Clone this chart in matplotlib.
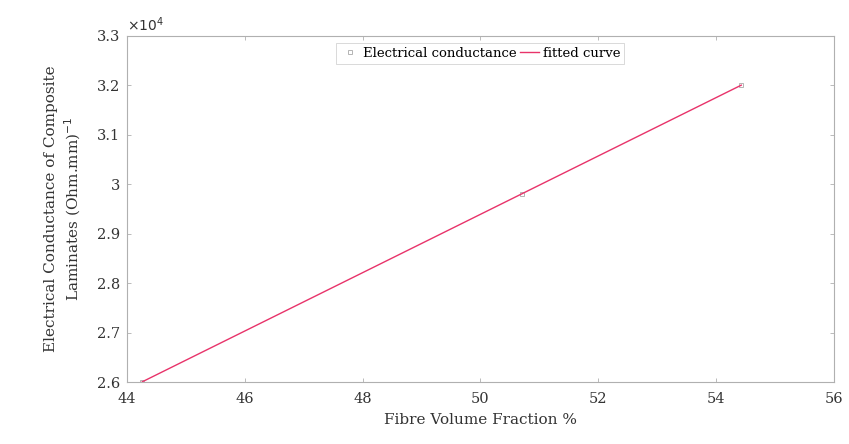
import matplotlib
matplotlib.use("Agg")
import matplotlib.pyplot as plt
from matplotlib.ticker import FuncFormatter

# measured points
fvf = [44.26, 50.70, 54.43]
conductance = [26000, 29810, 32010]

# fitted curve (end points)
fit_x = [44.26, 54.43]
fit_y = [26005, 32005]

plt.rcParams['font.family'] = ['DejaVu Serif']
plt.rcParams['font.size'] = 10

fig = plt.figure(figsize=(8.49, 4.44), dpi=100)
ax = fig.add_axes([0.1496, 0.1396, 0.8324, 0.7794])

ax.plot(fvf, conductance, linestyle='none', marker='s', markersize=2.2,
        markerfacecolor='none', markeredgecolor='#b4b4b4', markeredgewidth=0.7,
        label='Electrical conductance')
ax.plot(fit_x, fit_y, color='#e8336a', linewidth=1.0, label='fitted curve')

ax.set_xlim(44, 56)
ax.set_ylim(26000, 33000)
ax.set_xticks(range(44, 57, 2))
ax.set_yticks(range(26000, 33001, 1000))
ax.yaxis.set_major_formatter(FuncFormatter(lambda v, p: f'{v/1e4:g}'))

for s in ax.spines.values():
    s.set_color('#b0b0b0')
    s.set_linewidth(0.8)
ax.tick_params(direction='in', length=3, width=0.6, color='#b0b0b0',
               labelcolor='#333333', top=True, right=True, labelsize=10.5)
ax.tick_params(axis='x', pad=7)
ax.tick_params(axis='y', pad=5)

ax.text(0.0, 1.005, r'$\times10^{4}$', transform=ax.transAxes, fontsize=10,
        color='#333333', ha='left', va='bottom')

ax.set_xlabel('Fibre Volume Fraction %', fontsize=11, color='#333333', labelpad=5)
ax.set_ylabel('Electrical Conductance of Composite\nLaminates (Ohm.mm)$^{-1}$',
              fontsize=11, color='#333333', labelpad=10, linespacing=1.3)

leg = ax.legend(loc='upper center', bbox_to_anchor=(0.5, 0.98), ncol=2,
                fontsize=9.5, frameon=True, fancybox=False, handlelength=1.4,
                handletextpad=0.3, columnspacing=0.3, borderpad=0.3,
                borderaxespad=0)
leg.get_frame().set_edgecolor('#c8c8c8')
leg.get_frame().set_linewidth(0.6)

fig.savefig('out.png', dpi=100)
